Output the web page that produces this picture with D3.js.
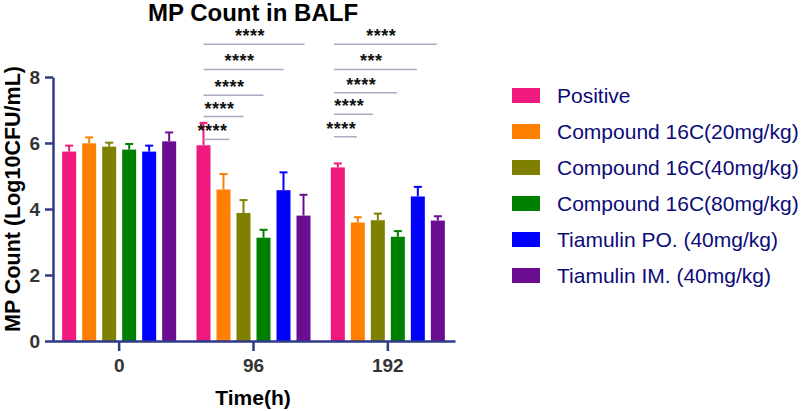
<!DOCTYPE html>
<html>
	<head>
		<meta charset="UTF-8">
		<title>MP Count in BALF</title>
		<script type="text/javascript" src="https://cdn.jsdelivr.net/npm/d3@7"></script>
		<style>
			body { margin: 0; background: #fff; }
			text { font-family: Arial, "Liberation Sans", sans-serif; }
		</style>
	</head>
	<body>
		<script>
			//time points (x categories)
			var timePoints = ["0", "96", "192"];

			//treatment groups and their colours
			var groups = ["Positive", "Compound 16C(20mg/kg)", "Compound 16C(40mg/kg)",
				"Compound 16C(80mg/kg)", "Tiamulin PO. (40mg/kg)", "Tiamulin IM. (40mg/kg)"];
			var colors = ["#f0197d", "#ff8000", "#808000", "#008000", "#0000ff", "#6b0d91"];

			//means per time point (one array per group)
			var meanPositive = [5.74, 5.93, 5.26];
			var mean20 = [5.99, 4.59, 3.59];
			var mean40 = [5.89, 3.88, 3.66];
			var mean80 = [5.80, 3.13, 3.16];
			var meanPO = [5.74, 4.57, 4.38];
			var meanIM = [6.05, 3.80, 3.65];

			//top of the error bar (mean + sd)
			var errPositive = [5.92, 6.61, 5.38];
			var err20 = [6.17, 5.06, 3.75];
			var err40 = [6.01, 4.27, 3.86];
			var err80 = [5.97, 3.37, 3.33];
			var errPO = [5.92, 5.11, 4.67];
			var errIM = [6.32, 4.43, 3.78];

			var yTicks = [0, 2, 4, 6, 8];

			//significance brackets, in bar units from the Positive bar
			var sig96From = [0, 0, 0, 0, 0];
			var sig96To = [1.3, 2, 3, 4, 5.05];
			var sig96Y = [6.11, 6.80, 7.45, 8.23, 8.99];
			var sig96Labels = ["****", "****", "****", "****", "****"];

			var sig192From = [-0.2, -0.2, -0.2, -0.2, -0.2];
			var sig192To = [0.95, 1.75, 2.95, 3.95, 4.95];
			var sig192Y = [6.19, 6.87, 7.52, 8.23, 8.99];
			var sig192Labels = ["****", "****", "****", "***", "****"];

			var means = [meanPositive, mean20, mean40, mean80, meanPO, meanIM];
			var errs = [errPositive, err20, err40, err80, errPO, errIM];

			var w = 803;
			var h = 411;
			var axisColor = "#2f3a8a";

			var svg = d3.select("body")
				.append("svg")
				.attr("width", w)
				.attr("height", h);

			//scales
			var x0 = d3.scaleBand()
				.domain(timePoints)
				.range([52, 455]);

			var x1 = d3.scaleBand()
				.domain(groups)
				.range([-60, 60])
				.paddingInner(0.3)
				.paddingOuter(0.15);

			var y = d3.scaleLinear()
				.domain([0, 8])
				.range([341, 77]);

			//flatten into one row per bar
			var bars = [];
			timePoints.forEach(function(t, ti) {
				groups.forEach(function(g, gi) {
					bars.push({time: t, group: g, color: colors[gi], value: means[gi][ti], top: errs[gi][ti]});
				});
			});

			function barCenter(d) {
				return x0(d.time) + x0.bandwidth() / 2 + x1(d.group) + x1.bandwidth() / 2;
			}

			//error bars (upper only) drawn first so bars cover the bottom part
			var eb = svg.append("g");
			eb.selectAll("line.stem")
				.data(bars)
				.enter()
				.append("line")
				.attr("x1", barCenter)
				.attr("x2", barCenter)
				.attr("y1", function(d) { return y(d.value); })
				.attr("y2", function(d) { return y(d.top); })
				.attr("stroke", function(d) { return d.color; })
				.attr("stroke-width", 2);
			eb.selectAll("line.cap")
				.data(bars)
				.enter()
				.append("line")
				.attr("x1", function(d) { return barCenter(d) - 4; })
				.attr("x2", function(d) { return barCenter(d) + 4; })
				.attr("y1", function(d) { return y(d.top); })
				.attr("y2", function(d) { return y(d.top); })
				.attr("stroke", function(d) { return d.color; })
				.attr("stroke-width", 2);

			svg.append("g")
				.selectAll("rect")
				.data(bars)
				.enter()
				.append("rect")
				.attr("x", function(d) { return barCenter(d) - x1.bandwidth() / 2; })
				.attr("y", function(d) { return y(d.value); })
				.attr("width", x1.bandwidth())
				.attr("height", function(d) { return y(0) - y(d.value); })
				.attr("fill", function(d) { return d.color; });

			//significance brackets
			var barStep = x1.step();
			function drawSig(time, from, to, ys, labels) {
				var base = x0(time) + x0.bandwidth() / 2 + x1(groups[0]) + x1.bandwidth() / 2;
				var g = svg.append("g");
				labels.forEach(function(lab, i) {
					var xa = base + from[i] * barStep;
					var xb = base + to[i] * barStep;
					g.append("line")
						.attr("x1", xa)
						.attr("x2", xb)
						.attr("y1", y(ys[i]))
						.attr("y2", y(ys[i]))
						.attr("stroke", "#a9a9c6")
						.attr("stroke-width", 1.5);
					g.append("text")
						.attr("x", (xa + xb) / 2 - 4)
						.attr("y", y(ys[i]) - 2)
						.attr("text-anchor", "middle")
						.attr("font-size", "18px")
						.attr("font-weight", "bold")
						.attr("letter-spacing", "0.5px")
						.attr("fill", "#111")
						.text(lab);
				});
			}
			drawSig("96", sig96From, sig96To, sig96Y, sig96Labels);
			drawSig("192", sig192From, sig192To, sig192Y, sig192Labels);

			//axes
			var yAxis = d3.axisLeft(y)
				.tickValues(yTicks)
				.tickSize(8)
				.tickSizeOuter(0)
				.tickPadding(5);
			var gy = svg.append("g")
				.attr("transform", "translate(53,0)")
				.call(yAxis);

			var xAxis = d3.axisBottom(x0)
				.tickSize(10)
				.tickSizeOuter(0)
				.tickPadding(8);
			var gx = svg.append("g")
				.attr("transform", "translate(0," + y(0) + ")")
				.call(xAxis);

			[gx, gy].forEach(function(g) {
				g.selectAll("path, line")
					.attr("stroke", axisColor)
					.attr("stroke-width", 2.5);
				g.selectAll("text")
					.attr("font-size", "19px")
					.attr("font-weight", "bold")
					.attr("fill", "#333")
					.attr("font-family", "Arial, 'Liberation Sans', sans-serif");
			});

			//title and axis labels
			svg.append("text")
				.attr("x", 253)
				.attr("y", 21)
				.attr("text-anchor", "middle")
				.attr("font-size", "24px")
				.attr("font-weight", "bold")
				.text("MP Count in BALF");

			svg.append("text")
				.attr("x", 253)
				.attr("y", 405)
				.attr("text-anchor", "middle")
				.attr("font-size", "21px")
				.attr("font-weight", "bold")
				.text("Time(h)");

			svg.append("text")
				.attr("transform", "translate(20,199) rotate(-90)")
				.attr("text-anchor", "middle")
				.attr("font-size", "21.5px")
				.attr("font-weight", "bold")
				.text("MP Count (Log10CFU/mL)");

			//legend
			var legend = svg.append("g")
				.attr("transform", "translate(512,95)")
				.selectAll("g")
				.data(groups)
				.enter()
				.append("g")
				.attr("transform", function(d, i) { return "translate(0," + (i * 36) + ")"; });

			legend.append("rect")
				.attr("x", 0)
				.attr("y", -7)
				.attr("width", 28)
				.attr("height", 15)
				.attr("fill", function(d, i) { return colors[i]; });

			legend.append("text")
				.attr("x", 45)
				.attr("y", 0)
				.attr("dy", "0.36em")
				.attr("font-size", "21px")
				.attr("fill", "#0b0b78")
				.text(function(d) { return d; });
		</script>
	</body>
</html>
